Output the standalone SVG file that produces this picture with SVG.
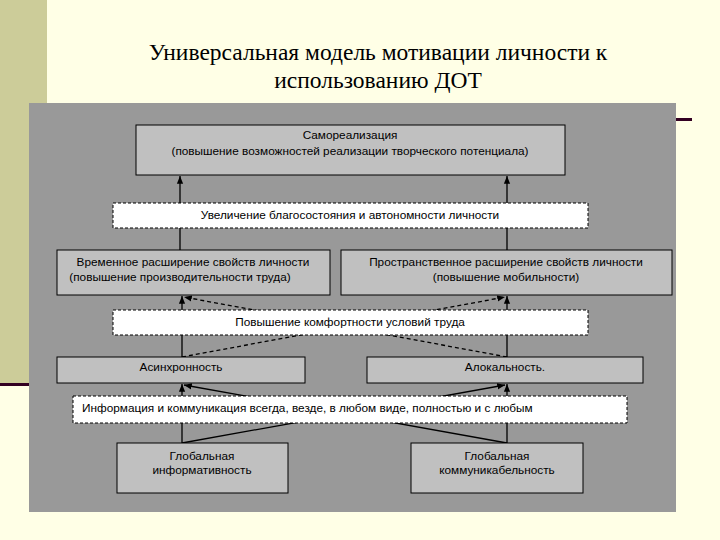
<svg xmlns="http://www.w3.org/2000/svg" width="720" height="540" viewBox="0 0 720 540">
<defs>
<marker id="ar" viewBox="0 0 10 10" refX="10" refY="5" markerWidth="6" markerHeight="6" orient="auto"><path d="M0,1L10,5L0,9z" fill="#000"/></marker>
<style>
.b{fill:#c0c0c0;stroke:#000;stroke-width:1}
.d{fill:#fff;stroke:#000;stroke-width:1;stroke-dasharray:3,2}
.t{font-family:"Liberation Sans",Arial,sans-serif;font-size:11.8px;text-anchor:middle;fill:#000}
.l{stroke:#000;stroke-width:1.3;fill:none}
.ld{stroke:#000;stroke-width:1.3;fill:none;stroke-dasharray:4,3}
</style>
</defs>
<rect width="720" height="540" fill="#ffffe6"/>
<rect x="0" y="0" width="47" height="385" fill="#cccc99"/>
<rect x="0" y="383" width="40" height="3" fill="#330022"/>
<rect x="672" y="118" width="20" height="3" fill="#330022"/>
<text x="378" y="60" font-family="Liberation Serif,serif" font-size="23.5" text-anchor="middle">Универсальная модель мотивации личности к</text>
<text x="378" y="88" font-family="Liberation Serif,serif" font-size="23.5" text-anchor="middle">использованию ДОТ</text>
<rect x="29" y="103" width="647" height="409" fill="#999999"/>
<g id="connectors">
<line class="l" x1="180" y1="203" x2="180" y2="176" marker-end="url(#ar)"/>
<line class="l" x1="507" y1="203" x2="507" y2="176" marker-end="url(#ar)"/>
<line class="l" x1="180" y1="250" x2="180" y2="228"/>
<line class="l" x1="507" y1="250" x2="507" y2="228"/>
<line class="l" x1="182" y1="357" x2="182" y2="296" marker-end="url(#ar)"/>
<line class="l" x1="507" y1="357" x2="507" y2="296" marker-end="url(#ar)"/>
<line class="ld" x1="182" y1="357" x2="505" y2="297" marker-end="url(#ar)"/>
<line class="ld" x1="507" y1="357" x2="184" y2="297" marker-end="url(#ar)"/>
<line class="l" x1="182" y1="443" x2="182" y2="384" marker-end="url(#ar)"/>
<line class="l" x1="507" y1="443" x2="507" y2="384" marker-end="url(#ar)"/>
<line class="l" x1="182" y1="443" x2="505" y2="385" marker-end="url(#ar)"/>
<line class="l" x1="507" y1="443" x2="184" y2="385" marker-end="url(#ar)"/>
</g>
<g id="n1"><rect class="b" x="136" y="125" width="429" height="50"/><text class="t" x="350" y="139">Самореализация</text><text class="t" x="350" y="155">(повышение возможностей реализации творческого потенциала)</text></g>
<g id="n2"><rect class="d" x="113" y="203" width="475" height="25"/><text class="t" x="350" y="219">Увеличение благосостояния и автономности личности</text></g>
<g id="n3"><rect class="b" x="57" y="250" width="273" height="45"/><text class="t" x="193" y="266">Временное расширение  свойств личности</text><text class="t" x="180" y="281">(повышение производительности труда)</text></g>
<g id="n4"><rect class="b" x="341" y="250" width="331" height="45"/><text class="t" x="506" y="266">Пространственное расширение  свойств личности</text><text class="t" x="506" y="281">(повышение мобильности)</text></g>
<g id="n5"><rect class="d" x="113" y="310" width="475" height="25"/><text class="t" x="350" y="326">Повышение комфортности условий труда</text></g>
<g id="n6"><rect class="b" x="57" y="357" width="248" height="26"/><text class="t" x="181" y="371">Асинхронность</text></g>
<g id="n7"><rect class="b" x="367" y="357" width="276" height="26"/><text class="t" x="505" y="371">Алокальность.</text></g>
<g id="n8"><rect class="d" x="73" y="396" width="554" height="27"/><text class="t" x="82" y="412" style="text-anchor:start">Информация и коммуникация всегда, везде, в любом виде, полностью и с любым</text></g>
<g id="n9"><rect class="b" x="117" y="443" width="171" height="50"/><text class="t" x="202" y="460">Глобальная</text><text class="t" x="202" y="474">информативность</text></g>
<g id="n10"><rect class="b" x="411" y="443" width="172" height="50"/><text class="t" x="497" y="460">Глобальная</text><text class="t" x="497" y="474">коммуникабельность</text></g>
</svg>
